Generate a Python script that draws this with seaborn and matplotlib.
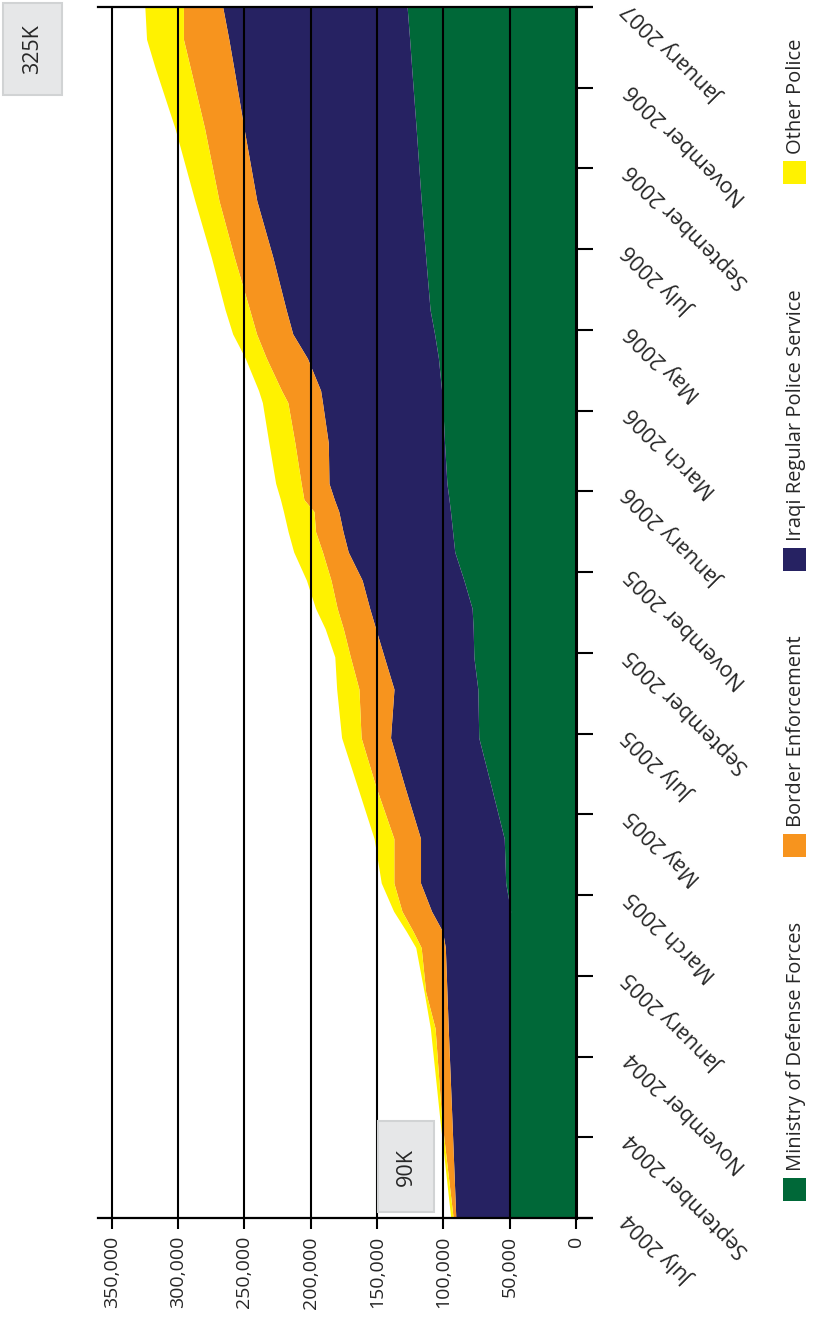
import numpy as np
import matplotlib.pyplot as plt
import matplotlib.transforms as mtransforms
from matplotlib.patches import Rectangle
import seaborn as sns

# ── Data: Iraqi security forces trained & equipped ──────────────────────────
# x position = months after July 2004
months = [0, 2.5, 4.7, 5.6, 6.7, 7.1, 7.6, 8.3, 9.4, 10.7, 11.9, 13.1, 13.9,
          14.6, 15.1, 15.8, 16.5, 17.0, 17.5, 17.8, 18.2, 19.2, 20.2, 20.5,
          21.3, 21.9, 22.5, 23.8, 25.2, 27.0, 28.5, 29.2, 30.0]

defense_forces = [50000, 50000, 50000, 50000, 50000, 50000, 49300, 53000,
                  54100, 64000, 73300, 74000, 77000, 77500, 78300, 84500,
                  91400, 93000, 94600, 95700, 97300, 99100, 100500, 101300,
                  103700, 106600, 110000, 113300, 116700, 120500, 123900,
                  125400, 127300]

regular_police = [40600, 43600, 46300, 47300, 48500, 50600, 59600, 64200,
                  63100, 65200, 66500, 63200, 67600, 73500, 77200, 76700,
                  80300, 82600, 84200, 86500, 88900, 87600, 90600, 91200,
                  98800, 106900, 108500, 115200, 123900, 129800, 134100,
                  136300, 139000]

border_enforcement = [2000, 7800, 9900, 16000, 18200, 22200, 22300, 20100,
                      20100, 21800, 22200, 26400, 25500, 24400, 24500, 23500,
                      19400, 20700, 18700, 22900, 21000, 25200, 26100, 29500,
                      30900, 27300, 27500, 29100, 28500, 29700, 32800, 34200,
                      29600]

other_police = [1800, 1400, 3600, 1200, 4100, 5100, 6300, 9500, 14900, 13900,
                14700, 16800, 11700, 13700, 16300, 18500, 21700, 20700, 23000,
                17700, 19200, 19600, 19200, 17300, 15900, 18000, 18500, 17300,
                18200, 22300, 26500, 27800, 29100]

date_ticks = list(range(0, 31, 2))
date_labels = ["July 2004", "September 2004", "November 2004", "January 2005",
               "March 2005", "May 2005", "July 2005", "September 2005",
               "November 2005", "January 2006", "March 2006", "May 2006",
               "July 2006", "September 2006", "November 2006", "January 2007"]
value_ticks = list(range(0, 350001, 50000))

series_names = ["Ministry of Defense Forces", "Border Enforcement",
                "Iraqi Regular Police Service", "Other Police"]

GREEN, NAVY, ORANGE, YELLOW = "#006838", "#262262", "#F7941E", "#FFF200"
BOX_FC, BOX_EC = "#E6E7E8", "#D1D3D4"

sns.set_style("white")
plt.rcParams["font.family"] = ["Open Sans", "DejaVu Sans"]

W, H = 817, 1320
fig = plt.figure(figsize=(W / 100, H / 100), dpi=100)


def fx(px):
    return px / W


def fy(py):
    return 1 - py / H


# chart is drawn turned a quarter turn: dates run upward, values leftward
ax = fig.add_axes([fx(98), fy(1218), (576 - 98) / W, (1218 - 7) / H])

y = np.array(months)
s1 = np.array(defense_forces)
s2 = s1 + np.array(regular_police)
s3 = s2 + np.array(border_enforcement)
s4 = s3 + np.array(other_police)

ax.fill_betweenx(y, 0, s1, color=GREEN, lw=0, zorder=1)
ax.fill_betweenx(y, s1, s2, color=NAVY, lw=0, zorder=1)
ax.fill_betweenx(y, s2, s3, color=ORANGE, lw=0, zorder=1)
ax.fill_betweenx(y, s3, s4, color=YELLOW, lw=0, zorder=1)

for v in value_ticks[1:]:
    ax.axvline(v, color="black", lw=1.5, zorder=3)

ax.set_xlim(360300, 0)
ax.set_ylim(0, 30)

# spines
ax.spines["left"].set_visible(False)
ax.spines["right"].set_linewidth(2.2)
ax.spines["top"].set_linewidth(1.6)
ax.spines["bottom"].set_linewidth(1.6)
for sp in ax.spines.values():
    sp.set_color("black")
    sp.set_zorder(4)
for yy in (0, 30):
    ax.plot([0, -12800], [yy, yy], color="black", lw=1.6, clip_on=False,
            solid_capstyle="butt", zorder=4)

# value axis (bottom)
ax.set_xticks(value_ticks)
ax.set_xticklabels([f"{v:,}" for v in value_ticks], rotation=90,
                   fontsize=14, va="top", ha="center")
ax.tick_params(axis="x", bottom=True, direction="out", length=8, width=1.5,
               pad=5, color="black")

# date axis (right side)
ax.yaxis.tick_right()
ax.set_yticks(date_ticks)
ax.set_yticklabels(date_labels, fontsize=15.5)
ax.tick_params(axis="y", right=True, left=False, direction="out", length=12,
               width=1.5, pad=26, color="black")
shift = mtransforms.ScaledTranslation(0, 1 / 100, fig.dpi_scale_trans)
for lab in ax.get_yticklabels():
    lab.set_rotation(135)
    lab.set_rotation_mode("anchor")
    lab.set_ha("right")
    lab.set_va("center")
    lab.set_transform(lab.get_transform() + shift)

ax.grid(False)
ax.set_facecolor("white")

# legend, turned with the chart
legend_colors = [GREEN, ORANGE, NAVY, YELLOW]
legend_square_top = [1178, 834, 548, 161]
for name, col, top in zip(series_names, legend_colors, legend_square_top):
    fig.add_artist(Rectangle((fx(783), fy(top + 23)), 23 / W, 23 / H,
                             transform=fig.transFigure, fc=col, ec="none"))
    fig.text(fx(796), fy(top - 7), name, rotation=90, ha="center",
             va="bottom", fontsize=14.5)

# value call-outs
for label, (x0, y0, x1, y1) in [("325K", (3, 3, 62, 95)),
                                ("90K", (378, 1121, 434, 1212))]:
    fig.add_artist(Rectangle((fx(x0), fy(y1)), (x1 - x0) / W, (y1 - y0) / H,
                             transform=fig.transFigure, fc=BOX_FC, ec=BOX_EC,
                             lw=1.5, zorder=5))
    fig.text(fx((x0 + x1) / 2), fy((y0 + y1) / 2), label, rotation=90,
             ha="center", va="center", fontsize=15.5, zorder=6)

fig.savefig("out.png", dpi=100)
plt.close(fig)
